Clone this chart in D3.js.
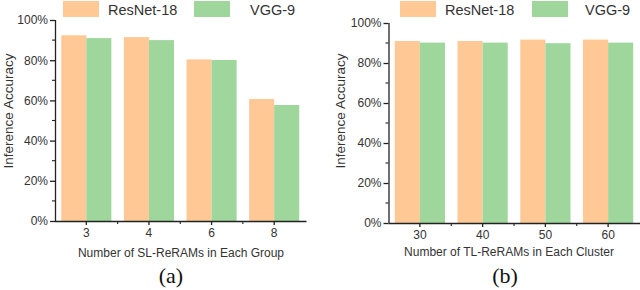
<!DOCTYPE html>
<html><head><meta charset="utf-8">
<script src="https://cdn.jsdelivr.net/npm/d3@7"></script>
<style>body{margin:0;background:#fff}svg{display:block}</style>
</head><body>
<svg id="c" width="640" height="290"></svg>
<script>
const seriesNames = ["ResNet-18", "VGG-9"];
const catsA = ["3", "4", "6", "8"];
const resnetA = [92.4, 91.5, 80.4, 60.7];
const vggA = [91.0, 90.0, 80.1, 57.7];
const catsB = ["30", "40", "50", "60"];
const resnetB = [91.0, 91.0, 91.7, 91.7];
const vggB = [90.2, 90.2, 89.9, 90.2];
const yTicks = [0, 20, 40, 60, 80, 100];
const yMinor = [10, 30, 50, 70, 90];
const colors = ["#FFC895", "#9ED69C"];

const svg = d3.select("#c");

function panel(cfg) {
  const g = svg.append("g");
  const x = d3.scaleBand().domain(cfg.cats).range([cfg.x0, cfg.x1]).paddingInner(0).paddingOuter(0);
  const y = d3.scaleLinear().domain([0, 100]).range([cfg.yb, cfg.yt]);
  const x1 = d3.scaleBand().domain([0, 1]).range([0, x.bandwidth()]).paddingOuter(0.25).paddingInner(0);
  const series = [cfg.r, cfg.v];
  cfg.cats.forEach((c, i) => {
    series.forEach((s, k) => {
      g.append("rect")
        .attr("x", x(c) + x1(k))
        .attr("width", x1.bandwidth())
        .attr("y", y(s[i]))
        .attr("height", y(0) - y(s[i]))
        .attr("fill", colors[k]);
    });
  });
  // y axis
  const ya = g.append("g").attr("transform", `translate(${cfg.x0},0)`)
    .call(d3.axisLeft(y).tickValues(yTicks).tickFormat(d => d + "%").tickSize(5).tickPadding(2));
  ya.selectAll(".tick text").attr("font-family", "Liberation Sans, Arial, sans-serif").attr("font-size", 12).attr("fill", "#333");
  ya.selectAll("line,path").attr("stroke", "#222").attr("stroke-width", 1.3);
  ya.select(".domain").attr("d", `M0.5,${cfg.yb}V${cfg.yt}`);
  yMinor.forEach(v => ya.append("line").attr("x1", 0).attr("x2", -3).attr("y1", y(v)).attr("y2", y(v)).attr("stroke", "#222").attr("stroke-width", 1.1));
  // x axis
  const xa = g.append("g").attr("transform", `translate(0,${cfg.yb})`)
    .call(d3.axisBottom(x).tickSize(4).tickPadding(3));
  xa.selectAll(".tick text").attr("font-family", "Liberation Sans, Arial, sans-serif").attr("font-size", 12).attr("fill", "#333");
  xa.selectAll("line,path").attr("stroke", "#222").attr("stroke-width", 1.3);
  xa.select(".domain").attr("d", `M${cfg.x0},0.5H${cfg.x1 + 1}`);
  cfg.cats.slice(1).forEach(c => xa.append("line").attr("x1", x(c)).attr("x2", x(c)).attr("y1", 0).attr("y2", 3).attr("stroke", "#222").attr("stroke-width", 1.1));
  // titles
  g.append("text").attr("transform", `translate(${cfg.ytx},${cfg.yty}) rotate(-90)`)
    .attr("text-anchor", "middle").attr("font-family", "Liberation Sans, Arial, sans-serif")
    .attr("font-size", 13.5).attr("fill", "#333").text("Inference Accuracy");
  g.append("text").attr("x", cfg.xtx).attr("y", cfg.xty).attr("text-anchor", "middle")
    .attr("font-family", "Liberation Sans, Arial, sans-serif").attr("font-size", 12).attr("fill", "#333").text(cfg.xtitle);
  g.append("text").attr("x", cfg.labx).attr("y", 283).attr("text-anchor", "middle")
    .attr("font-family", "Liberation Serif, Times New Roman, serif").attr("font-size", 22).attr("fill", "#111").text(cfg.lab);
  // legend
  seriesNames.forEach((n, k) => {
    g.append("rect").attr("x", cfg.leg[k][0]).attr("y", 1).attr("width", 36).attr("height", 16).attr("fill", colors[k]);
    g.append("text").attr("x", cfg.leg[k][1]).attr("y", 14.5).attr("font-family", "Liberation Sans, Arial, sans-serif")
      .attr("font-size", 14.5).attr("fill", "#333").text(n);
  });
}

panel({cats: catsA, r: resnetA, v: vggA, x0: 55, x1: 305.5, yb: 221, yt: 20,
  ytx: 13, yty: 111, xtx: 181, xty: 257, xtitle: "Number of SL-ReRAMs in Each Group",
  labx: 171, lab: "(a)", leg: [[63, 108], [194, 250]]});
panel({cats: catsB, r: resnetB, v: vggB, x0: 388.5, x1: 639.5, yb: 223, yt: 23,
  ytx: 345, yty: 111, xtx: 509, xty: 256, xtitle: "Number of TL-ReRAMs in Each Cluster",
  labx: 505, lab: "(b)", leg: [[400, 445], [532, 585]]});
</script>
</body></html>
